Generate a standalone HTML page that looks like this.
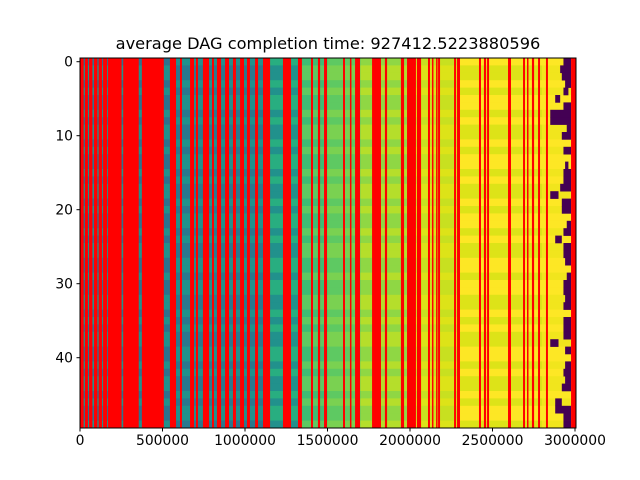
<!DOCTYPE html>
<html><head><meta charset="utf-8"><style>
html,body{margin:0;padding:0;background:#fff;width:640px;height:480px;overflow:hidden}
text{font-family:"DejaVu Sans","Liberation Sans",sans-serif;fill:#000}
</style></head><body>
<svg id="chart" width="640" height="480" viewBox="0 0 640 480" xmlns="http://www.w3.org/2000/svg">
<text x="328" y="49" font-size="16.2" text-anchor="middle">average DAG completion time: 927412.5223880596</text>
<g id="plot"></g>
<g id="axes"></g>
</svg>
<script>
// data (x in thousands)
const xTicks = [0, 500000, 1000000, 1500000, 2000000, 2500000, 3000000];
const yTicks = [0, 10, 20, 30, 40];
const nRows = 50;
const xMaxK = 3006;
const zoneStarts = [0, 545, 1109, 1321, 1500, 1700, 2000, 2300, 2800];
const zoneEnds = [545, 1109, 1321, 1500, 1700, 2000, 2300, 2800, 3006];
const zoneColorA = ['#2c728e','#21918c','#28ae80','#3dbc74','#5ec962','#8fd744','#c8e020','#fde725','#fde725'];
const zoneColorB = ['#21918c','#2a788e','#21918c','#5ec962','#7ad151','#b5de2b','#dde318','#dde318','#f1e51d'];
const rowPattern = '01101001011010010110100101100100110101100101101001';
const redStart = [0,30,55,85,113,140,170,262,375,545,606,667,703,745,800,830,879,927,970,1012,1061,1109,1230,1321,1400,1442,1479,1594,1636,1667,1770,1848,1945,1982,2042,2109,2133,2158,2170,2267,2285,2418,2448,2467,2594,2685,2709,2739,2776,2824,2976];
const redEnd = [22,48,75,105,133,164,252,356,508,582,618,691,715,782,812,855,903,945,994,1030,1079,1152,1279,1345,1412,1455,1497,1606,1642,1697,1824,1861,1964,2036,2067,2121,2139,2164,2182,2279,2303,2430,2461,2479,2612,2697,2715,2752,2788,2836,3006];
const purpleRow = [0,1,2,3,4,5,6,7,8,9,10,12,14,15,16,17,18,19,20,22,23,24,25,26,27,29,30,31,32,33,35,36,37,38,39,41,42,43,44,46,47,48,49];
const purpleStart = [2930,2910,2920,2940,2930,2880,2930,2850,2850,2950,2920,2930,2940,2930,2930,2910,2850,2920,2920,2950,2930,2880,2930,2930,2940,2950,2930,2930,2940,2930,2930,2930,2930,2850,2940,2940,2930,2940,2920,2880,2880,2930,2930];
const purpleEnd = [2976,2976,2976,2976,2960,2910,2976,2976,2976,2976,2976,2976,2960,2976,2976,2976,2900,2976,2976,2976,2976,2920,2976,2976,2976,2976,2976,2976,2976,2976,2976,2976,2976,2900,2976,2976,2976,2976,2976,2920,2976,2976,2976];

const X0=80, X1=576, Y0=58, Y1=428;
const xs = k => X0 + k/xMaxK*(X1-X0);
const rowH = (Y1-Y0)/nRows;
const ys = r => Y0 + r*rowH;
const NS='http://www.w3.org/2000/svg';
const plot=document.getElementById('plot'), axes=document.getElementById('axes');
function mk(tag, attrs, parent){const e=document.createElementNS(NS,tag);for(const k in attrs)e.setAttribute(k,attrs[k]);parent.appendChild(e);return e;}

for(let z=0;z<zoneStarts.length;z++){
  for(let r=0;r<nRows;r++){
    const c = rowPattern[r]==='1'?zoneColorB[z]:zoneColorA[z];
    const e=mk('rect',{x:xs(zoneStarts[z]),y:ys(r),width:xs(zoneEnds[z])-xs(zoneStarts[z])+0.5,height:rowH+0.5,fill:c},plot);
    
    
  }
}
for(let i=0;i<purpleRow.length;i++){
  const e=mk('rect',{x:xs(purpleStart[i]),y:ys(purpleRow[i]),width:xs(purpleEnd[i])-xs(purpleStart[i]),height:rowH+0.3,fill:'#440154'},plot);
  
  
}
for(let i=0;i<redStart.length;i++){
  const e=mk('rect',{x:xs(redStart[i]),y:Y0,width:Math.max(1.5,xs(redEnd[i])-xs(redStart[i])),height:Y1-Y0,fill:'#ff0000'},plot);
  
  
}
const fr=mk('rect',{x:X0,y:Y0,width:X1-X0,height:Y1-Y0,fill:'none',stroke:'#000','stroke-width':1},axes);


xTicks.forEach(v=>{
  const x=xs(v/1000);
  const t=mk('line',{x1:x,x2:x,y1:Y1,y2:Y1+3.5,stroke:'#000'},axes);
  
  
  const l=mk('text',{x:x,y:Y1+17,'font-size':13.9,'text-anchor':'middle'},axes);
  l.textContent=v;
  
  
});
yTicks.forEach(v=>{
  const y=ys(v)+rowH/2;
  const t=mk('line',{x1:X0-3.5,x2:X0,y1:y,y2:y,stroke:'#000'},axes);
  
  
  const l=mk('text',{x:X0-7,y:y+5,'font-size':13.9,'text-anchor':'end'},axes);
  l.textContent=v;
  
  
});
</script>
</body></html>
